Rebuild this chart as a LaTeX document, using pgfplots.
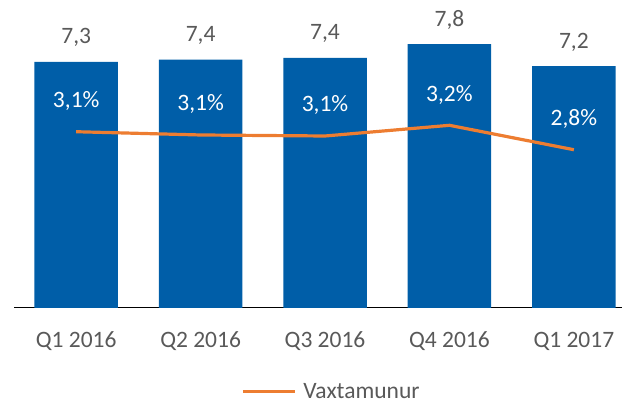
\documentclass[border=0pt]{standalone}
\usepackage{pgfplots}
\pgfplotsset{compat=1.18}
\usepackage{fontspec}
\setmainfont{Carlito}
\definecolor{barblue}{HTML}{005EA8}
\definecolor{lineorange}{HTML}{ED7D31}
\definecolor{txtgray}{HTML}{595959}
\newcommand{\cf}{\fontsize{23.5}{28}\selectfont}
\begin{document}
\begin{tikzpicture}[x=1pt,y=1pt]
\path[use as bounding box] (0,0) rectangle (622,403);
\begin{axis}[
  at={(14pt,95pt)}, anchor=south west,
  scale only axis, width=608pt, height=308pt,
  xmin=-0.5, xmax=4.387, ymin=0, ymax=9.126,
  enlargelimits=false, clip=false,
  axis x line*=bottom, axis y line=none,
  xtick={0,1,2,3,4},
  xticklabels={Q1 2016,Q2 2016,Q3 2016,Q4 2016,Q1 2017},
  major tick length=0pt,
  x axis line style={black, line width=1pt, -},
  xticklabel style={font=\cf, text=txtgray, anchor=base, yshift=-40pt},
  ybar, bar width=83.5pt,
  /pgf/number format/assume math mode=true,
  /pgf/number format/.cd, fixed, fixed zerofill, precision=1, use comma, /pgfplots/.cd,
  nodes near coords,
  nodes near coords style={font=\cf, text=txtgray, anchor=base, yshift=18pt, inner sep=0pt},
]
\addplot[fill=barblue, draw=none] coordinates {(0,7.29) (1,7.36) (2,7.41) (3,7.82) (4,7.17)};
\end{axis}
\begin{axis}[
  at={(14pt,95pt)}, anchor=south west,
  scale only axis, width=608pt, height=308pt,
  xmin=-0.5, xmax=4.387, ymin=0, ymax=5.476,
  enlargelimits=false, clip=false,
  hide axis,
  /pgf/number format/assume math mode=true,
  /pgf/number format/.cd, fixed, fixed zerofill, precision=1, use comma, /pgfplots/.cd,
  nodes near coords={\pgfmathprintnumber{\pgfplotspointmeta}\%},
  nodes near coords style={font=\cf, text=white, anchor=base, yshift=24pt, inner sep=0pt},
  legend style={at={(0.3734,-0.2700)}, anchor=west, draw=none, fill=none,
    font=\cf, text=txtgray, inner sep=0pt, column sep=7pt,
    nodes={inner sep=0pt, text depth=0pt}},
  legend image code/.code={\draw[#1] (0pt,0pt) -- (52pt,0pt);},
]
\addplot[lineorange, line width=3.2pt, no markers] coordinates {(0,3.134) (1,3.076) (2,3.058) (3,3.248) (4,2.814)};
\addlegendentry{Vaxtamunur}
\end{axis}
\end{tikzpicture}
\end{document}
